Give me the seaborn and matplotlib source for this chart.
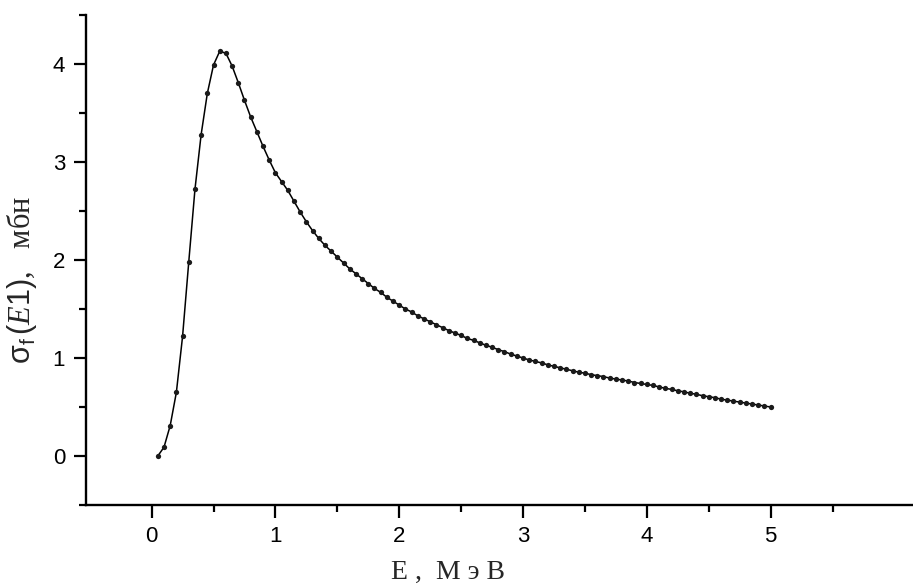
import matplotlib
matplotlib.use('Agg')
import matplotlib.pyplot as plt
from matplotlib.ticker import FixedLocator
import pandas as pd
import seaborn as sns

# energy grid, MeV (step 0.05)
energy = [0.05, 0.10, 0.15, 0.20, 0.25, 0.30, 0.35, 0.40, 0.45, 0.50,
          0.55, 0.60, 0.65, 0.70, 0.75, 0.80, 0.85, 0.90, 0.95, 1.00,
          1.05, 1.10, 1.15, 1.20, 1.25, 1.30, 1.35, 1.40, 1.45, 1.50,
          1.55, 1.60, 1.65, 1.70, 1.75, 1.80, 1.85, 1.90, 1.95, 2.00,
          2.05, 2.10, 2.15, 2.20, 2.25, 2.30, 2.35, 2.40, 2.45, 2.50,
          2.55, 2.60, 2.65, 2.70, 2.75, 2.80, 2.85, 2.90, 2.95, 3.00,
          3.05, 3.10, 3.15, 3.20, 3.25, 3.30, 3.35, 3.40, 3.45, 3.50,
          3.55, 3.60, 3.65, 3.70, 3.75, 3.80, 3.85, 3.90, 3.95, 4.00,
          4.05, 4.10, 4.15, 4.20, 4.25, 4.30, 4.35, 4.40, 4.45, 4.50,
          4.55, 4.60, 4.65, 4.70, 4.75, 4.80, 4.85, 4.90, 4.95, 5.00]

# cross section sigma_f(E1), mb
sigma = [0.00, 0.09, 0.31, 0.65, 1.22, 1.98, 2.72, 3.28, 3.70, 3.99,
         4.13, 4.11, 3.98, 3.81, 3.63, 3.46, 3.31, 3.16, 3.02, 2.89,
         2.80, 2.71, 2.60, 2.49, 2.39, 2.30, 2.22, 2.15, 2.09, 2.03,
         1.97, 1.91, 1.86, 1.81, 1.76, 1.71, 1.67, 1.62, 1.58, 1.54,
         1.50, 1.47, 1.43, 1.40, 1.37, 1.34, 1.31, 1.28, 1.255, 1.23,
         1.20, 1.18, 1.155, 1.13, 1.11, 1.085, 1.065, 1.04, 1.02, 1.00,
         0.98, 0.965, 0.95, 0.93, 0.915, 0.90, 0.885, 0.87, 0.855, 0.845,
         0.83, 0.82, 0.81, 0.795, 0.785, 0.775, 0.765, 0.75, 0.74, 0.73,
         0.72, 0.705, 0.69, 0.68, 0.665, 0.655, 0.64, 0.63, 0.615, 0.605,
         0.595, 0.58, 0.57, 0.56, 0.55, 0.54, 0.53, 0.52, 0.51, 0.50]

x_major = [0, 1, 2, 3, 4, 5]
x_minor = [0.5, 1.5, 2.5, 3.5, 4.5, 5.5]
y_major = [0, 1, 2, 3, 4]
y_minor = [-0.5, 0.5, 1.5, 2.5, 3.5, 4.5]

df = pd.DataFrame({'E': energy, 'sigma': sigma})

sns.set_style('ticks')
plt.rcParams['font.family'] = ['Liberation Sans', 'DejaVu Sans']
plt.rcParams['mathtext.fontset'] = 'custom'
plt.rcParams['mathtext.rm'] = 'Liberation Sans'
plt.rcParams['mathtext.it'] = 'Liberation Serif:italic'

fig = plt.figure(figsize=(9.13, 5.86), dpi=100)
ax = fig.add_axes([86 / 913, 81 / 586, 1 - 86 / 913, (505 - 15) / 586])

sns.lineplot(data=df, x='E', y='sigma', ax=ax, color='black', linewidth=1.1,
             marker='o', markersize=3.8, markeredgewidth=0, markerfacecolor='#1a1a1a')

ax.set_xlim(-0.53, 6.15)
ax.set_ylim(-0.5, 4.5)
ax.xaxis.set_major_locator(FixedLocator(x_major))
ax.xaxis.set_minor_locator(FixedLocator(x_minor))
ax.yaxis.set_major_locator(FixedLocator(y_major))
ax.yaxis.set_minor_locator(FixedLocator(y_minor))
ax.tick_params(which='major', direction='out', length=9, width=1.6, labelsize=16,
               pad=6, colors='black')
ax.tick_params(which='minor', direction='out', length=5, width=1.6, colors='black')

for side in ['top', 'right']:
    ax.spines[side].set_visible(False)
for side in ['left', 'bottom']:
    ax.spines[side].set_linewidth(1.7)
    ax.spines[side].set_color('black')

ax.set_xlabel('E ,  M э В', fontfamily='Liberation Serif', fontsize=20)
ax.xaxis.set_label_coords((448 - 86) / 827, -0.112)
ax.set_ylabel(r'$\mathrm{\sigma_f}\,(\mathit{E1})$,   мбн', fontfamily='Liberation Serif',
              fontsize=22)
ax.yaxis.set_label_coords(-0.057, 0.46)

fig.savefig('out.png', dpi=100)
